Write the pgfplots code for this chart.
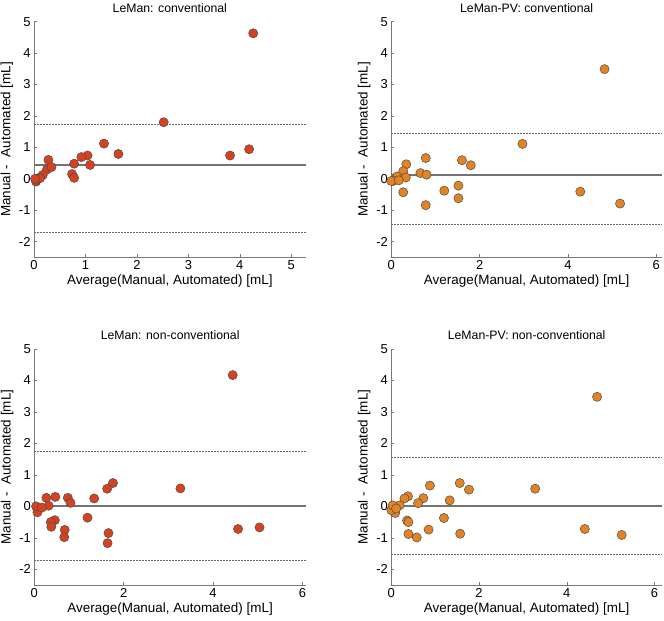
\documentclass[border=0pt]{standalone}
\usepackage{fontspec}
\setmainfont{Liberation Sans}
\usepackage{pgfplots}
\pgfplotsset{compat=1.18}
\definecolor{cred}{RGB}{214,66,32}
\definecolor{corg}{RGB}{226,132,36}
\definecolor{axgray}{RGB}{120,120,120}
\pgfplotsset{
  ba/.style={
    scale only axis, anchor=south west,
    axis x line=bottom, axis y line=left,
    axis line style={-, draw=axgray, line width=0.8bp},
    tick style={draw=axgray, line width=0.6bp},
    tick align=inside, major tick length=3bp,
    ymin=-2.5, ymax=5, ytick={-2,-1,0,1,2,3,4,5},
    /pgf/number format/assume math mode=true,
    tick label style={font=\fontsize{13}{15}\selectfont},
    label style={font=\fontsize{13.5}{15}\selectfont},
    xlabel style={yshift=2bp},
    ylabel style={yshift=-1bp},
    title style={font=\fontsize{12.3}{14}\selectfont, yshift=0bp},
    xlabel={Average(Manual, Automated) [mL]},
    ylabel={Manual -~~Automated [mL]},
    clip=false,
  },
  meanl/.style={draw=gray!90!black, line width=2.2bp},
  limitl/.style={draw=black!60, line width=0.6bp, dash pattern=on 1.8bp off 1.2bp},
  ptsr/.style={only marks, mark=*, mark size=4.6bp, mark options={fill=cred, draw=black!70, line width=0.5bp}},
  ptso/.style={only marks, mark=*, mark size=4.6bp, mark options={fill=corg, draw=black!70, line width=0.5bp}},
}
\begin{document}
\begin{tikzpicture}
\useasboundingbox (0,0) rectangle (664bp,621bp);
% Panel 1
\begin{axis}[ba, at={(34bp,363.7bp)}, width=271.7bp, height=235.6bp,
  xmin=0, xmax=5.28, xtick={0,1,2,3,4,5}, title={LeMan: conventional}]
\addplot[limitl] coordinates {(0,1.72) (5.28,1.72)};
\addplot[limitl] coordinates {(0,-1.70) (5.28,-1.70)};
\addplot[meanl] coordinates {(0,0.45) (5.28,0.45)};
\addplot[ptsr] coordinates {
(4.26,4.63) (2.52,1.80) (1.36,1.12) (1.64,0.79) (1.04,0.74) (0.92,0.69)
(1.09,0.44) (0.78,0.48) (0.74,0.15) (0.78,0.03) (3.81,0.74) (4.18,0.94)
(0.28,0.60) (0.25,0.29) (0.34,0.37) (0.17,0.12) (0.10,0.03) (0.04,-0.09)
(0.05,-0.03) (0.12,0.02) (0.02,0.00)};
\end{axis}
% Panel 2
\begin{axis}[ba, at={(391.3bp,363.7bp)}, width=270.7bp, height=235.6bp,
  xmin=0, xmax=6.13, xtick={0,2,4,6}, title={LeMan-PV: conventional}]
\addplot[limitl] coordinates {(0,1.45) (6.13,1.45)};
\addplot[limitl] coordinates {(0,-1.45) (6.13,-1.45)};
\addplot[meanl] coordinates {(0,0.13) (6.13,0.13)};
\addplot[ptso] coordinates {
(4.83,3.49) (2.97,1.11) (4.28,-0.41) (5.18,-0.79) (1.60,0.59) (1.80,0.43)
(1.52,-0.22) (1.52,-0.62) (1.20,-0.38) (0.78,0.66) (0.78,-0.84) (0.66,0.18)
(0.80,0.13) (0.34,0.46) (0.27,0.24) (0.33,0.04) (0.27,-0.43) (0.09,0.00)
(0.13,0.07) (0.04,-0.07) (0.00,-0.07) (0.17,-0.05)};
\end{axis}
% Panel 3
\begin{axis}[ba, at={(34.3bp,36bp)}, width=271.7bp, height=236bp,
  xmin=0, xmax=6.08, xtick={0,2,4,6}, title={LeMan: non-conventional}]
\addplot[limitl] coordinates {(0,1.74) (6.08,1.74)};
\addplot[limitl] coordinates {(0,-1.72) (6.08,-1.72)};
\addplot[meanl] coordinates {(0,0.0) (6.08,0.0)};
\addplot[ptsr] coordinates {
(4.44,4.17) (3.27,0.57) (4.56,-0.72) (5.04,-0.67) (1.76,0.74) (1.63,0.56)
(1.66,-0.85) (1.64,-1.17) (1.34,0.25) (1.19,-0.36) (0.75,0.27) (0.81,0.11)
(0.68,-0.75) (0.67,-0.98) (0.47,0.30) (0.27,0.27) (0.46,-0.44) (0.37,-0.50)
(0.38,-0.65) (0.32,0.02) (0.07,-0.19) (0.04,0.00) (0.17,-0.04)};
\end{axis}
% Panel 4
\begin{axis}[ba, at={(391.3bp,36bp)}, width=270.7bp, height=236bp,
  xmin=0, xmax=6.17, xtick={0,2,4,6}, title={LeMan-PV: non-conventional}]
\addplot[limitl] coordinates {(0,1.55) (6.17,1.55)};
\addplot[limitl] coordinates {(0,-1.53) (6.17,-1.53)};
\addplot[meanl] coordinates {(0,0.0) (6.17,0.0)};
\addplot[ptso] coordinates {
(4.69,3.48) (3.28,0.56) (4.41,-0.72) (5.25,-0.91) (1.56,0.74) (1.77,0.53)
(1.57,-0.87) (1.20,-0.37) (1.33,0.19) (0.88,0.66) (0.85,-0.74) (0.73,0.26)
(0.61,0.10) (0.58,-0.99) (0.38,0.32) (0.30,0.25) (0.36,-0.45) (0.39,-0.50)
(0.39,-0.88) (0.19,0.03) (0.09,-0.21) (0.05,-0.02) (0.00,-0.12) (0.03,0.03)
(0.11,-0.07)};
\end{axis}
\end{tikzpicture}
\end{document}
